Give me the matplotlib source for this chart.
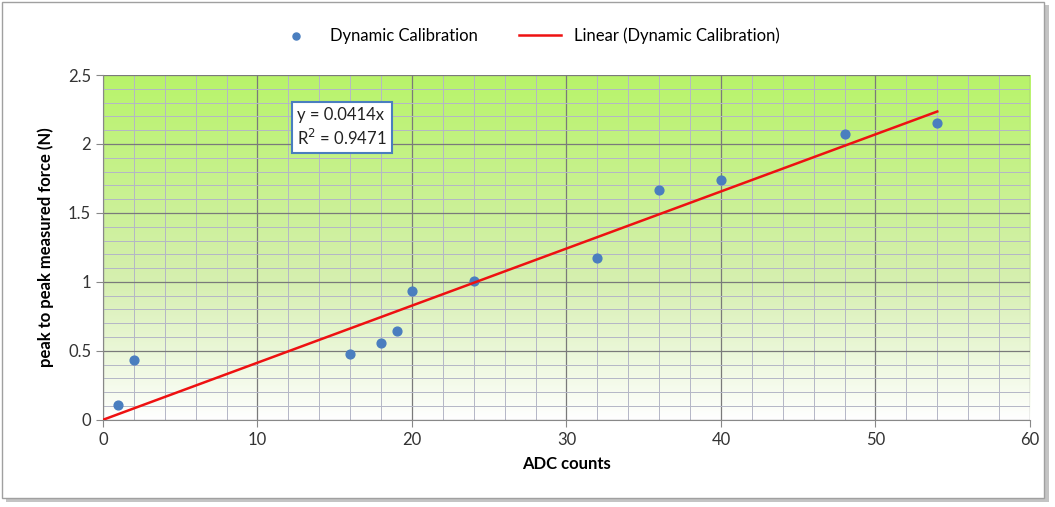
import numpy as np
import matplotlib
matplotlib.use('Agg')
import matplotlib.pyplot as plt
from matplotlib.patches import Rectangle
from matplotlib.colors import LinearSegmentedColormap

adc = [1, 2, 16, 18, 19, 20, 24, 32, 36, 40, 48, 54]
force = [0.11, 0.435, 0.478, 0.558, 0.645, 0.935, 1.007, 1.174, 1.667, 1.739, 2.075, 2.152]
slope = 0.0414
r2 = 0.9471

plt.rcParams['font.family'] = ['Lato', 'DejaVu Sans']

fig = plt.figure(figsize=(10.55, 5.07), dpi=100)

# outer chart frame with a soft shadow
fig.patches.append(Rectangle((0.006, 0.010), 0.988, 0.98, transform=fig.transFigure,
                             facecolor='#c4c4c4', edgecolor='none', zorder=-3))
fig.patches.append(Rectangle((0.002, 0.018), 0.988, 0.978, transform=fig.transFigure,
                             facecolor='white', edgecolor='#a0a0a0', lw=1.0, zorder=-2))

ax = fig.add_axes([0.0976, 0.172, 0.8787, 0.680])

# gradient background: green at the top fading to white
cmap = LinearSegmentedColormap.from_list('bg', [(0, '#ffffff'), (0.4, '#d6efb0'), (1, '#b8f46a')])
grad = np.linspace(0, 1, 256).reshape(-1, 1)
ax.imshow(grad, cmap=cmap, aspect='auto', origin='lower',
          extent=(0, 60, 0, 2.5), zorder=0)

ax.set_xlim(0, 60)
ax.set_ylim(0, 2.5)
ax.set_xticks(np.arange(0, 61, 10))
ax.set_yticks(np.arange(0, 2.51, 0.5))
ax.set_xticks(np.arange(0, 61, 2), minor=True)
ax.set_yticks(np.arange(0, 2.51, 0.1), minor=True)
ax.set_yticklabels(['0', '0.5', '1', '1.5', '2', '2.5'])
ax.grid(which='minor', color='#b4b6c6', lw=0.7, zorder=1)
ax.grid(which='major', color='#7a7a7a', lw=0.9, zorder=1)
ax.tick_params(which='minor', length=0)
ax.tick_params(which='major', length=5, color='#888888', labelsize=12, colors='#333333')
for s in ['top', 'right']:
    ax.spines[s].set_visible(False)
for s in ['left', 'bottom']:
    ax.spines[s].set_color('#888888')

ax.scatter(adc, force, s=40, color='#4a7ebf', zorder=3, label='Dynamic Calibration')
xfit = np.array([0, max(adc)])
ax.plot(xfit, slope * xfit, color='#ee1111', lw=1.8, zorder=3, label='Linear (Dynamic Calibration)')

ax.text(12.55, 2.12, 'y = %.4fx\nR$^2$ = %.4f' % (slope, r2), fontsize=12, va='center', ha='left',
        color='#222222', linespacing=1.25,
        bbox=dict(boxstyle='square,pad=0.3', facecolor='white', edgecolor='#4a7ebf', lw=1.5), zorder=4)

ax.set_xlabel('ADC counts', fontsize=12, fontweight='bold', labelpad=6)
ax.set_ylabel('peak to peak measured force (N)', fontsize=12, fontweight='bold', labelpad=10)

fig.legend(loc='center', bbox_to_anchor=(0.5, 0.93), ncol=2, frameon=False, fontsize=12,
           handlelength=2.5, columnspacing=2.5, markerscale=0.8)

fig.savefig('out.png', dpi=100)
